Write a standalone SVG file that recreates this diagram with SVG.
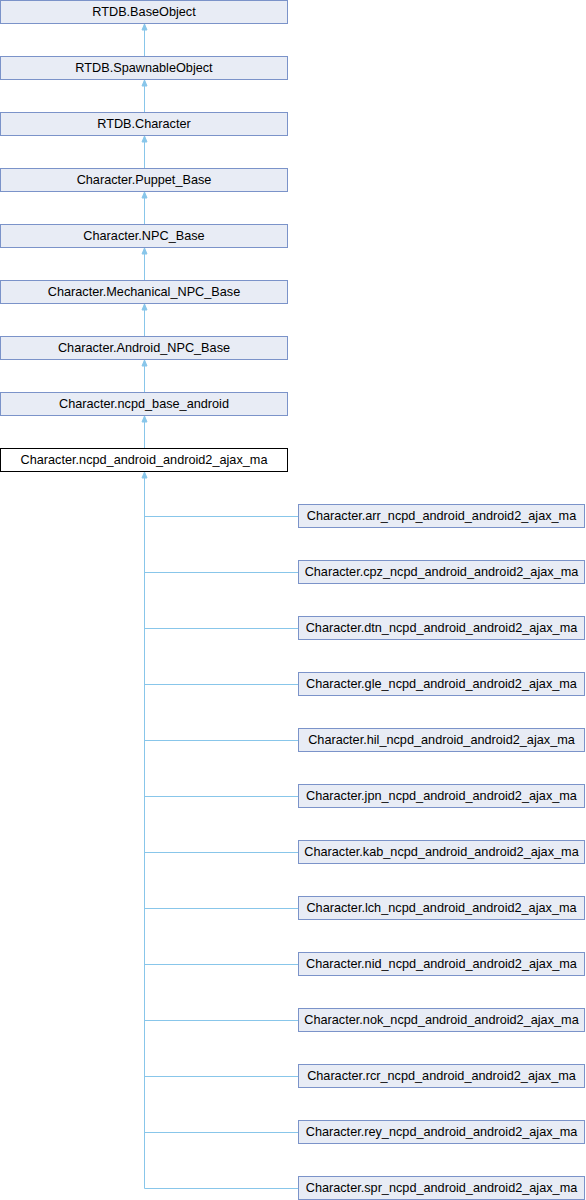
<svg xmlns="http://www.w3.org/2000/svg" width="586" height="1200" viewBox="0 0 586 1200">
<style>
.n rect{fill:#e8ecf5;stroke:#7b93c9;stroke-width:1}
.m rect{fill:#ffffff;stroke:#000000;stroke-width:1}
text{font-family:"Liberation Sans",Arial,sans-serif;font-size:12.7px;fill:#000;text-anchor:middle}
.e path{fill:none;stroke:#88c6ea;stroke-width:1}
.e polygon{fill:#88c6ea;stroke:#88c6ea;stroke-width:1}
</style>
<rect width="586" height="1200" fill="#fff"/>
<g class="e" id="edges">
<path d="M144.5,56.5V30"/><polygon points="144.5,24 142,30 147,30"/>
<path d="M144.5,112.5V86"/><polygon points="144.5,80 142,86 147,86"/>
<path d="M144.5,168.5V142"/><polygon points="144.5,136 142,142 147,142"/>
<path d="M144.5,224.5V198"/><polygon points="144.5,192 142,198 147,198"/>
<path d="M144.5,280.5V254"/><polygon points="144.5,248 142,254 147,254"/>
<path d="M144.5,336.5V310"/><polygon points="144.5,304 142,310 147,310"/>
<path d="M144.5,392.5V366"/><polygon points="144.5,360 142,366 147,366"/>
<path d="M144.5,448.5V422"/><polygon points="144.5,416 142,422 147,422"/>
<path d="M144.5,1188.5V478"/><polygon points="144.5,472 142,478 147,478"/>
<path d="M144.5,516.5H298.5M144.5,572.5H298.5M144.5,628.5H298.5M144.5,684.5H298.5M144.5,740.5H298.5M144.5,796.5H298.5M144.5,852.5H298.5M144.5,908.5H298.5M144.5,964.5H298.5M144.5,1020.5H298.5M144.5,1076.5H298.5M144.5,1132.5H298.5M144.5,1188.5H298.5"/>
</g>
<g class="n" id="n0"><rect x="0.5" y="0.5" width="287" height="23"/><text x="144" y="16">RTDB.BaseObject</text></g>
<g class="n" id="n1"><rect x="0.5" y="56.5" width="287" height="23"/><text x="144" y="72">RTDB.SpawnableObject</text></g>
<g class="n" id="n2"><rect x="0.5" y="112.5" width="287" height="23"/><text x="144" y="128">RTDB.Character</text></g>
<g class="n" id="n3"><rect x="0.5" y="168.5" width="287" height="23"/><text x="144" y="184">Character.Puppet_Base</text></g>
<g class="n" id="n4"><rect x="0.5" y="224.5" width="287" height="23"/><text x="144" y="240">Character.NPC_Base</text></g>
<g class="n" id="n5"><rect x="0.5" y="280.5" width="287" height="23"/><text x="144" y="296">Character.Mechanical_NPC_Base</text></g>
<g class="n" id="n6"><rect x="0.5" y="336.5" width="287" height="23"/><text x="144" y="352">Character.Android_NPC_Base</text></g>
<g class="n" id="n7"><rect x="0.5" y="392.5" width="287" height="23"/><text x="144" y="408">Character.ncpd_base_android</text></g>
<g class="m" id="n8"><rect x="0.5" y="448.5" width="287" height="23"/><text x="144" y="464">Character.ncpd_android_android2_ajax_ma</text></g>
<g class="n" id="r0"><rect x="298.5" y="504.5" width="286" height="23"/><text x="441.5" y="520">Character.arr_ncpd_android_android2_ajax_ma</text></g>
<g class="n" id="r1"><rect x="298.5" y="560.5" width="286" height="23"/><text x="441.5" y="576">Character.cpz_ncpd_android_android2_ajax_ma</text></g>
<g class="n" id="r2"><rect x="298.5" y="616.5" width="286" height="23"/><text x="441.5" y="632">Character.dtn_ncpd_android_android2_ajax_ma</text></g>
<g class="n" id="r3"><rect x="298.5" y="672.5" width="286" height="23"/><text x="441.5" y="688">Character.gle_ncpd_android_android2_ajax_ma</text></g>
<g class="n" id="r4"><rect x="298.5" y="728.5" width="286" height="23"/><text x="441.5" y="744">Character.hil_ncpd_android_android2_ajax_ma</text></g>
<g class="n" id="r5"><rect x="298.5" y="784.5" width="286" height="23"/><text x="441.5" y="800">Character.jpn_ncpd_android_android2_ajax_ma</text></g>
<g class="n" id="r6"><rect x="298.5" y="840.5" width="286" height="23"/><text x="441.5" y="856">Character.kab_ncpd_android_android2_ajax_ma</text></g>
<g class="n" id="r7"><rect x="298.5" y="896.5" width="286" height="23"/><text x="441.5" y="912">Character.lch_ncpd_android_android2_ajax_ma</text></g>
<g class="n" id="r8"><rect x="298.5" y="952.5" width="286" height="23"/><text x="441.5" y="968">Character.nid_ncpd_android_android2_ajax_ma</text></g>
<g class="n" id="r9"><rect x="298.5" y="1008.5" width="286" height="23"/><text x="441.5" y="1024">Character.nok_ncpd_android_android2_ajax_ma</text></g>
<g class="n" id="r10"><rect x="298.5" y="1064.5" width="286" height="23"/><text x="441.5" y="1080">Character.rcr_ncpd_android_android2_ajax_ma</text></g>
<g class="n" id="r11"><rect x="298.5" y="1120.5" width="286" height="23"/><text x="441.5" y="1136">Character.rey_ncpd_android_android2_ajax_ma</text></g>
<g class="n" id="r12"><rect x="298.5" y="1176.5" width="286" height="23"/><text x="441.5" y="1192">Character.spr_ncpd_android_android2_ajax_ma</text></g>
</svg>
